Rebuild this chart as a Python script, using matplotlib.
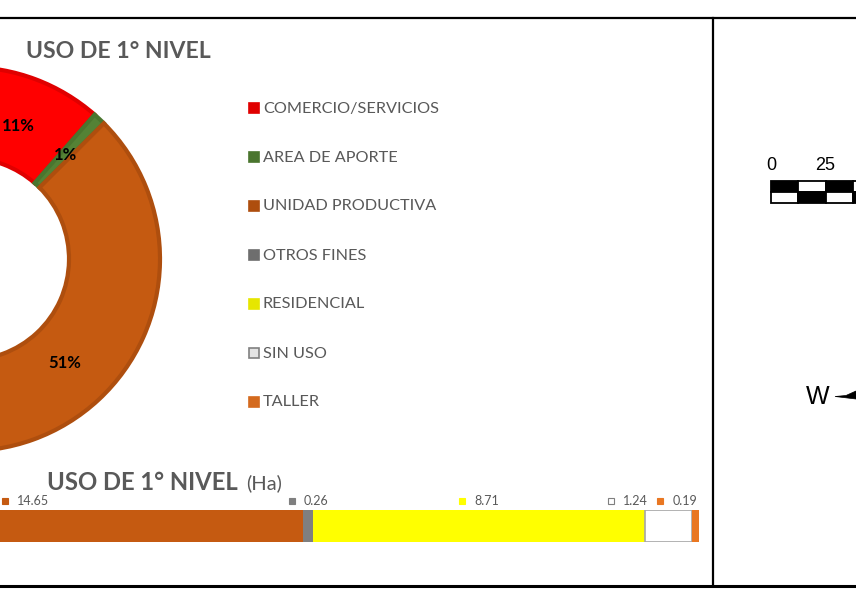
"""
USO DE 1° NIVEL - donut + stacked bar, cropped map layout
"""
import matplotlib
matplotlib.use("Agg")
import matplotlib.pyplot as plt
from matplotlib.patches import Rectangle, Polygon
from matplotlib.lines import Line2D
import matplotlib.transforms as mtransforms

# data
usos = ['COMERCIO/SERVICIOS', 'AREA DE APORTE', 'UNIDAD PRODUCTIVA', 'OTROS FINES',
        'RESIDENCIAL', 'SIN USO', 'TALLER']
hectareas = [3.28, 0.30, 14.65, 0.26, 8.71, 1.24, 0.19]
colores = ['#FF0000', '#548235', '#C55A11', '#7F7F7F', '#FFFF00', '#FFFFFF', '#E97722']
bordes = ['#E00000', '#4A752E', '#AE4E0E', '#6E6E6E', '#E6E600', '#A6A6A6', '#D46A1E']
ha_labels = ['3.28', '0.30', '14.65', '0.26', '8.71', '1.24', '0.19']

W, H = 856, 593
GRIS = '#595959'
FONT = 'Lato'


def fx(x):
    return x / W


def fy(y):
    return 1 - y / H


fig = plt.figure(figsize=(W / 100, H / 100), dpi=100)
fig.patch.set_facecolor('white')

# ---- donut (center is off the left edge of the crop)
cx, cy, half = -32, 259, 200
ax = fig.add_axes([fx(cx - half), fy(cy + half), 2 * half / W, 2 * half / H])
wedges, _, pcts = ax.pie(hectareas, radius=192, startangle=90, counterclock=False,
                         colors=colores, autopct=lambda p: f'{p:.0f}%',
                         pctdistance=0.74,
                         wedgeprops=dict(width=91, linewidth=3))
for w, ec in zip(wedges, bordes):
    w.set_edgecolor(ec)
for t in pcts:
    t.set_fontsize(12)
    t.set_fontweight('bold')
    t.set_family(FONT)
    t.set_color('black')
ax.set_xlim(-half, half)
ax.set_ylim(-half, half)
ax.set_aspect('equal')
ax.axis('off')

fig.text(fx(26), fy(51), 'USO DE 1° NIVEL', fontsize=16.6, fontweight='bold',
         color=GRIS, family=FONT, va='center', ha='left')

# legend
for i, (name, fc, ec) in enumerate(zip(usos, colores, bordes)):
    y = 108 + 49 * i
    face = '#E3E3E3' if name == 'SIN USO' else ec
    edge = '#808080' if name == 'SIN USO' else ec
    fig.add_artist(Rectangle((fx(249), fy(y + 5)), 10 / W, 10 / H,
                             transform=fig.transFigure, facecolor=face,
                             edgecolor=edge, linewidth=1.2))
    fig.text(fx(263), fy(y + 0.5), name, fontsize=11.7, color=GRIS, family=FONT,
             va='center', ha='left')

# ---- stacked bar (Ha)
px_per_ha = 38.06
total = sum(hectareas)
bar_right, bar_top, bar_bot = 699, 510, 542
bar_left = bar_right - total * px_per_ha
ax2 = fig.add_axes([fx(bar_left), fy(bar_bot), (bar_right - bar_left) / W,
                    (bar_bot - bar_top) / H])
left = 0
shift_px = [0, 0, 0, 0, 0, -41, -19]
for val, fc, ec, lab, sh in zip(hectareas, colores, bordes, ha_labels, shift_px):
    lw = 1.2 if fc == '#FFFFFF' else 0
    ax2.barh(0, val, left=left, height=1, color=fc, edgecolor=ec, linewidth=lw)
    xc = left + val / 2 + sh / px_per_ha
    group_w = 11 + len(lab) * 6.2
    mk = mtransforms.offset_copy(ax2.transData, fig=fig, x=-group_w / 2 * 0.72 + 1, y=0,
                                 units='points')
    ax2.plot([xc], [0.78], marker='s', markersize=5,
             markerfacecolor='white' if fc == '#FFFFFF' else fc,
             markeredgecolor='#7F7F7F' if fc == '#FFFFFF' else fc,
             markeredgewidth=0.8, transform=mk, clip_on=False)
    tt = mtransforms.offset_copy(ax2.transData, fig=fig,
                                 x=-group_w / 2 * 0.72 + 10, y=0, units='points')
    ax2.text(xc, 0.78, lab, transform=tt, fontsize=9, color=GRIS, family=FONT,
             va='center', ha='left', clip_on=False)
    left += val
ax2.set_xlim(0, total)
ax2.set_ylim(-0.5, 0.5)
ax2.axis('off')

t1 = fig.text(fx(47), fy(489.5), 'USO DE 1° NIVEL', fontsize=17.2, fontweight='bold',
              color=GRIS, family=FONT, va='baseline', ha='left')
fig.canvas.draw()
bb = t1.get_window_extent()
fig.text(bb.x1 / W + 8 / W, fy(489.5), '(Ha)', fontsize=14.5, color=GRIS, family=FONT,
         va='baseline', ha='left')

# ---- layout frame
fig.add_artist(Line2D([0, 1], [fy(18), fy(18)], color='black', lw=1.6,
                      transform=fig.transFigure))
fig.add_artist(Line2D([0, 1], [fy(585.5), fy(585.5)], color='black', lw=2.2,
                      transform=fig.transFigure))
fig.add_artist(Line2D([fx(713), fx(713)], [fy(18), fy(585.5)], color='black', lw=1.6,
                      transform=fig.transFigure))

# scale bar
cell = 27.3
for k in range(4):
    x0 = 771 + k * cell
    top_fc = 'black' if k % 2 == 0 else 'white'
    bot_fc = 'white' if k % 2 == 0 else 'black'
    fig.add_artist(Rectangle((fx(x0), fy(192)), cell / W, 11 / H, transform=fig.transFigure,
                             facecolor=top_fc, edgecolor='black', linewidth=1.3))
    fig.add_artist(Rectangle((fx(x0), fy(203)), cell / W, 11 / H, transform=fig.transFigure,
                             facecolor=bot_fc, edgecolor='black', linewidth=1.3))
fig.text(fx(771), fy(165), '0', fontsize=13, family='Liberation Sans', ha='center',
         va='center', color='black')
fig.text(fx(825), fy(165), '25', fontsize=13, family='Liberation Sans', ha='center',
         va='center', color='black')

# north arrow fragment
fig.text(fx(817.5), fy(397), 'W', fontsize=18, family='Liberation Sans', ha='center',
         va='center', color='black')
fig.add_artist(Polygon([(fx(835), fy(396.5)), (fx(846), fy(395.5)), (fx(856), fy(391)),
                        (fx(856), fy(399))], closed=True, transform=fig.transFigure,
                       facecolor='black', edgecolor='black', linewidth=0.5))

fig.savefig('out.png', dpi=100)
